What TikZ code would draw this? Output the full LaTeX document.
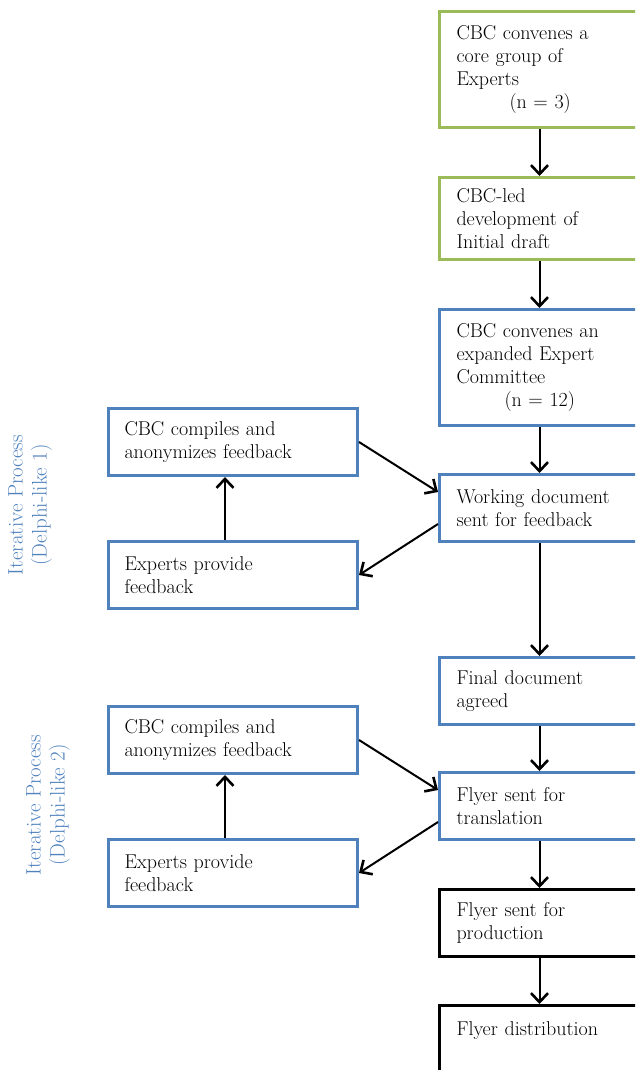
\documentclass[tikz,border=0pt]{standalone}
\usepackage{fontspec}
\usetikzlibrary{arrows.meta}
\definecolor{stepgreen}{HTML}{9BBB59}
\definecolor{stepblue}{HTML}{4F81BD}
\begin{document}
\begin{tikzpicture}[x=1pt,y=-1pt,->,
        >={Straight Barb[length=9pt,width=17pt,line width=2.6pt]},
        line width=2pt,
        main/.style={draw,rectangle,line width=3pt,anchor=north west,
          align=left,text width=166pt,inner xsep=17pt,inner ysep=0pt,
          font=\fontsize{20}{23}\selectfont},
        side/.style={main,text width=217pt,inner xsep=16pt,draw=stepblue,
          minimum height=67pt},
        phase/.style={rotate=90,align=center,text=stepblue,
          font=\fontsize{21}{24}\selectfont}]
      \useasboundingbox (0,0) rectangle (635,1070);
      \clip (0,0) rectangle (635,1070);
      \node[main,draw=stepgreen,minimum height=116pt] (s1) at (438,10)
        {CBC convenes a\\core group of\\Experts\\\hspace*{53pt}(n = 3)};
      \node[main,draw=stepgreen,minimum height=82pt] (s2) at (438,176)
        {CBC-led\\development of\\Initial draft};
      \node[main,draw=stepblue,minimum height=116pt] (s3) at (438,308)
        {CBC convenes an\\expanded Expert\\Committee\\\hspace*{48pt}(n = 12)};
      \node[main,draw=stepblue,minimum height=67pt] (s4) at (438,473)
        {Working document\\sent for feedback};
      \node[main,draw=stepblue,minimum height=67pt] (s5) at (438,656)
        {Final document\\agreed};
      \node[main,draw=stepblue,minimum height=67pt] (s6) at (438,771)
        {Flyer sent for\\translation};
      \node[main,draw=black,minimum height=67pt] (s7) at (438,888)
        {Flyer sent for\\production};
      \node[main,draw=black,minimum height=70pt] (s8) at (438,1004)
        {Flyer distribution\\~};
      \node[side] (l1) at (107,407) {CBC compiles and\\anonymizes feedback};
      \node[side] (l2) at (107,540) {Experts provide\\feedback};
      \node[side] (l3) at (107,705) {CBC compiles and\\anonymizes feedback};
      \node[side] (l4) at (107,838) {Experts provide\\feedback};
      \node[phase] (p1) at (30,505) {Iterative Process\\(Delphi-like 1)};
      \node[phase] (p2) at (48,805) {Iterative Process\\(Delphi-like 2)};
      \draw (s1) -- (s2);
      \draw (s2) -- (s3);
      \draw (s3) -- (s4);
      \draw (s4) -- (s5);
      \draw (s5) -- (s6);
      \draw (s6) -- (s7);
      \draw (s7) -- (s8);
      \draw (l1.east) -- ([yshift=16pt]s4.west);
      \draw ([yshift=-16pt]s4.west) -- (l2.east);
      \draw ([xshift=-8pt]l2.north) -- ([xshift=-8pt]l1.south);
      \draw (l3.east) -- ([yshift=16pt]s6.west);
      \draw ([yshift=-16pt]s6.west) -- (l4.east);
      \draw ([xshift=-8pt]l4.north) -- ([xshift=-8pt]l3.south);
    \end{tikzpicture}
\end{document}
